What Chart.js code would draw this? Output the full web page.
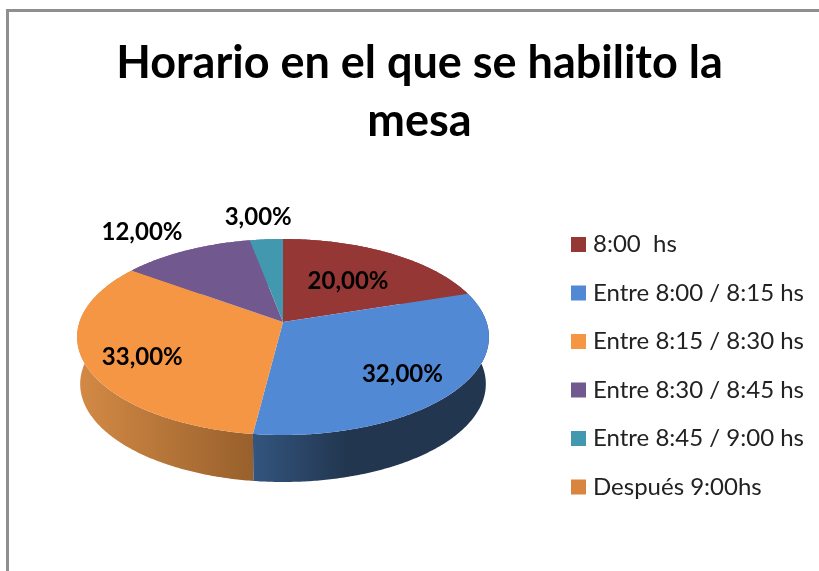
<!DOCTYPE html>
<html>
<head>
<meta charset="utf-8">
<style>
  html, body { margin: 0; padding: 0; background: #fff; overflow: hidden; }
  #frame { position: absolute; left: 6px; top: 9px; right: 0; bottom: 0; border-left: 3px solid #8f8f8f; border-top: 3px solid #8f8f8f; }
  canvas { position: absolute; left: 0; top: 0; }
</style>
</head>
<body>
<div id="frame"></div>
<canvas id="pie" width="819" height="571"></canvas>
<script src="https://cdn.jsdelivr.net/npm/chart.js@4"></script>
<script>
const titleLines = ["Horario en el que se habilito la", "mesa"];
const categories = ["8:00  hs", "Entre 8:00 / 8:15 hs", "Entre 8:15 / 8:30 hs", "Entre 8:30 / 8:45 hs", "Entre 8:45 / 9:00 hs", "Después 9:00hs"];
const shares = [20, 32, 33, 12, 3, 0];
const sliceColors = ["#953735", "#5289d5", "#f59644", "#71588f", "#4198af", "#d9843f"];

// dark end / light end of the side wall, per slice
const wallColors = [
  ["#953735", "#953735"],
  ["#33557f", "#22364f"],
  ["#d48a45", "#98602c"],
  ["#71588f", "#71588f"],
  ["#4198af", "#4198af"],
  ["#d9843f", "#d9843f"]
];

// Where the percent text goes, as a fraction of the radius plus a small nudge
const labelRadius = [0.583, 0.72, 0.74, 1.5, 1.3, 0];
const labelNudge = [[0, 1], [-2, 5], [4, 6], [-4, 12], [-4, -1], [0, 0]];

// Excel-style perspective of the pie top
const pie = { x: 283, y: 322, rx: 203.5, ry: 95.7, tilt: 0.153, depth: 47, shrink: 0.985 };

function project(angle, r) {
  const u = Math.cos(angle) * r;
  const v = -Math.sin(angle) * r;
  const w = 1 + pie.tilt * v;
  return [pie.x + pie.rx * u / w, pie.y - pie.ry * v / w];
}

function rimPoints(start, end) {
  const points = [];
  const steps = Math.max(2, Math.ceil((end - start) / 0.01));
  for (let i = 0; i <= steps; i++) {
    points.push(project(start + (end - start) * i / steps, 1));
  }
  return points;
}

function lower(p) {
  return [pie.x + (p[0] - pie.x) * pie.shrink, p[1] + pie.depth];
}

function drawWall(ctx, arc, colors) {
  const rim = rimPoints(arc.startAngle, arc.endAngle);
  const xs = rim.map(p => p[0]);
  const left = Math.min(...xs);
  const right = Math.max(...xs);
  const fill = ctx.createLinearGradient(left, 0, right, 0);
  // the blue wall is lit at its left, and reaches its dark tone early
  fill.addColorStop(0, colors[0]);
  fill.addColorStop(left > 200 ? 0.4 : 1, colors[1]);
  ctx.fillStyle = fill;
  // one quad per step, so the wall also covers the sliver at the pie's widest point
  ctx.beginPath();
  for (let i = 1; i < rim.length; i++) {
    const a = rim[i - 1];
    const b = rim[i];
    const c = lower(b);
    const d = lower(a);
    ctx.moveTo(a[0], a[1]);
    ctx.lineTo(b[0], b[1]);
    ctx.lineTo(c[0], c[1]);
    ctx.lineTo(d[0], d[1]);
    ctx.closePath();
  }
  ctx.fill();
}

function drawTop(ctx, arc, color) {
  ctx.fillStyle = color;
  ctx.beginPath();
  ctx.moveTo(pie.x, pie.y);
  rimPoints(arc.startAngle, arc.endAngle).forEach(p => ctx.lineTo(p[0], p[1]));
  ctx.closePath();
  ctx.fill();
}

const pie3d = {
  id: "pie3d",
  beforeDatasetsDraw(chart) {
    const ctx = chart.ctx;
    const arcs = chart.getDatasetMeta(0).data;
    ctx.save();
    arcs.forEach((arc, i) => { if (shares[i] > 0) drawWall(ctx, arc, wallColors[i]); });
    arcs.forEach((arc, i) => { if (shares[i] > 0) drawTop(ctx, arc, sliceColors[i]); });

    // percent labels
    ctx.font = "bold 24px Lato";
    ctx.fillStyle = "#000";
    ctx.textAlign = "center";
    ctx.textBaseline = "middle";
    arcs.forEach((arc, i) => {
      if (shares[i] === 0) return;
      const mid = (arc.startAngle + arc.endAngle) / 2;
      const p = project(mid, labelRadius[i]);
      ctx.fillText(shares[i].toFixed(2).replace(".", ",") + "%", p[0] + labelNudge[i][0], p[1] + labelNudge[i][1]);
    });

    // legend: Chart.js puts more room between box and text than the original has
    ctx.textAlign = "left";
    ctx.font = "24px Lato";
    categories.forEach((name, i) => {
      const rowY = 244.5 + i * 48.5;
      ctx.fillStyle = sliceColors[i];
      ctx.fillRect(571, rowY - 7.5, 15, 15);
      ctx.fillStyle = "#222";
      ctx.fillText(name, 593, rowY);
    });
    ctx.restore();
    return false;
  }
};

new Chart(document.getElementById("pie"), {
  type: "pie",
  data: {
    labels: categories,
    datasets: [{ data: shares, backgroundColor: sliceColors, borderWidth: 0 }]
  },
  plugins: [pie3d],
  options: {
    responsive: false,
    animation: false,
    layout: { padding: { left: 20, top: 24 } },
    plugins: {
      legend: { display: false },
      tooltip: { enabled: false },
      title: {
        display: true,
        text: titleLines,
        color: "#000",
        font: { family: "Lato", size: 45, weight: "bold", lineHeight: 1.29 }
      }
    }
  }
});
</script>
</body>
</html>
